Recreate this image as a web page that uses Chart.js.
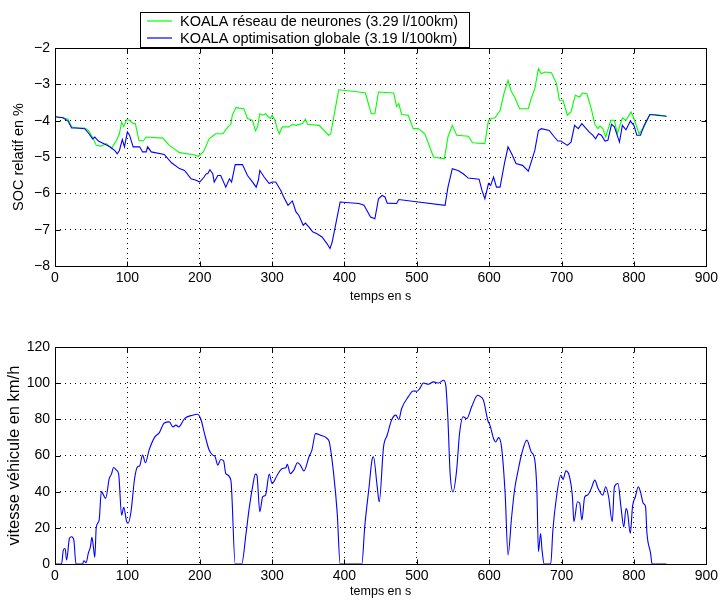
<!DOCTYPE html>
<html>
<head>
<meta charset="utf-8">
<script src="https://cdn.jsdelivr.net/npm/chart.js@4"></script>
<style>
  html, body { margin: 0; padding: 0; background: #fff; }
  #wrap { position: relative; width: 722px; height: 603px; }
  #socChart { position: absolute; left: 0; top: 0; }
  #speedChart { position: absolute; left: 0; top: 310px; }
</style>
</head>
<body>
<div id="wrap">
  <canvas id="socChart" width="722" height="310"></canvas>
  <canvas id="speedChart" width="722" height="293"></canvas>
</div>
<script>
// --- data ---
const legendLabels = ['KOALA réseau de neurones (3.29 l/100km)', 'KOALA optimisation globale (3.19 l/100km)'];
const xTitle = 'temps en s';
const socTitle = 'SOC relatif en %';
const speedTitle = 'vitesse véhicule en km/h';

// SOC, réseau de neurones (vert)
const tGreen = [0,11,18,23,30,41,46,53,57,64, 71,78,85,89,92,95,99,103,108,111,
  116,122,126,149,158,172,190,198,202,205, 209,213,222,232,239,243,245,250,261,266,
  273,277,280,283,287,291,295,298,300,304, 307,310,314,323,328,333,342,346,349,365,
  378,381,392,420,429,433,437,442,447,468, 472,475,479,488,495,502,511,523,538,543,
  549,555,571,577,594,599,603,608,615,621, 626,630,635,642,654,658,663,668,672,677,
  686,693,697,702,708,713,719,725,729,735, 741,746,750,753,757,761,768,773,777,784,
  789,796,800,807,814,822,830,845];
const socGreen = [-3.89,-3.92,-3.96,-4.17,-4.2,-4.2,-4.27,-4.5,-4.68,-4.7, -4.63,-4.77,-4.54,-4.36,-4.04,-4.16,-3.97,-3.99,-4.08,-4.08,
  -4.54,-4.56,-4.45,-4.48,-4.68,-4.88,-4.93,-4.98,-4.91,-4.86, -4.68,-4.5,-4.36,-4.36,-4.17,-4.1,-3.85,-3.64,-3.67,-3.94,
  -3.99,-4.28,-4.17,-3.81,-3.85,-3.81,-3.9,-3.94,-3.85,-3.99, -4.22,-4.36,-4.17,-4.17,-4.1,-4.13,-4.08,-3.96,-4.1,-4.13,
  -4.4,-4.36,-3.15,-3.21,-3.24,-3.53,-3.81,-3.81,-3.21,-3.24, -3.61,-3.53,-3.83,-3.85,-4.22,-4.22,-4.36,-5.0,-5.05,-4.45,
  -4.13,-4.4,-4.43,-4.61,-4.63,-3.99,-3.94,-3.92,-3.72,-3.21, -2.89,-3.17,-3.35,-3.67,-3.67,-3.39,-3.12,-2.57,-2.71,-2.66,
  -2.68,-2.98,-3.44,-3.44,-3.85,-3.76,-3.3,-3.35,-3.24,-3.26, -3.67,-4.1,-4.22,-4.15,-4.22,-4.45,-3.99,-3.99,-4.36,-3.92,
  -3.99,-3.76,-3.94,-4.36,-4.17,-3.83,-3.83,-3.88];

// SOC, optimisation globale (bleu)
const tBlue = [0,11,18,23,30,41,47,52,55,60, 67,76,83,86,89,93,96,100,103,108,
  117,121,126,128,133,151,161,172,179,188, 195,200,206,209,211,214,218,220,225,229,
  236,241,244,249,259,266,273,278,281,283, 289,296,300,305,312,316,322,328,333,337,
  343,346,351,356,362,369,376,380,383,394, 420,427,431,436,442,447,452,456,459,472,
  475,502,539,543,549,557,564,571,586,590, 594,599,602,606,610,615,621,626,631,637,
  646,654,658,663,668,672,683,690,695,699, 708,713,718,723,728,734,738,743,747,751,
  755,760,764,769,773,780,784,789,795,800, 804,809,814,822,845];
const socBlue = [-3.89,-3.92,-4.01,-4.2,-4.2,-4.22,-4.36,-4.5,-4.45,-4.56, -4.63,-4.72,-4.83,-4.91,-4.82,-4.52,-4.72,-4.31,-4.4,-4.72,
  -4.72,-4.86,-4.86,-4.72,-4.86,-4.93,-5.16,-5.32,-5.37,-5.6, -5.64,-5.69,-5.55,-5.46,-5.46,-5.35,-5.46,-5.69,-5.51,-5.51,
  -5.83,-5.6,-5.69,-5.21,-5.21,-5.51,-5.69,-5.83,-5.64,-5.37, -5.55,-5.73,-5.69,-5.69,-5.92,-6.1,-6.33,-6.21,-6.51,-6.61,
  -6.88,-6.82,-6.93,-7.06,-7.11,-7.2,-7.39,-7.52,-7.34,-6.24, -6.28,-6.33,-6.47,-6.65,-6.7,-6.15,-6.06,-6.1,-6.27,-6.28,
  -6.17,-6.24,-6.33,-5.83,-5.32,-5.37,-5.46,-5.58,-5.61,-5.92, -6.15,-5.73,-5.78,-5.55,-5.83,-5.83,-5.18,-4.72,-4.91,-5.18,
  -5.23,-5.39,-5.14,-4.82,-4.27,-4.22,-4.27,-4.45,-4.56,-4.56, -4.68,-4.59,-4.13,-4.22,-4.08,-4.22,-4.31,-4.4,-4.5,-4.36,
  -4.4,-4.56,-4.54,-4.1,-4.17,-4.59,-4.13,-4.25,-4.01,-4.13, -4.4,-4.4,-4.13,-3.83,-3.88];

// vitesse véhicule
const tSpeed = [0,9,11.5,14,16,20,23,26,29,38, 40,43,46,49,51,53,55,57,61,64,
  70,75,78,81,85,88,92,95,99,101, 105,110,114,117,121,125,130,138,144,151,
  158,163,167,171,179,190,197,202,206,213, 218,221,225,229,233,236,243,249,258,264,
  268,273,277,279,283,287,291,296,300,307, 314,319,321,325,330,335,339,344,351,355,
  360,367,376,379,385,390,394,
  424,428,434,438,440,445,448,454,459,465, 471,475,479,488,495,500,504,509,516,523,
  530,537,540,543,546,550,555,559,564,569, 576,584,587,592,598,601,606,609,613,617,
  622,626,631,635,640,645,652,658,663,666, 668,671,673,676,685,688,693,699,702,706,
  711,715,717,722,725,728,732,736,741,746, 750,757,761,765,770,773,778,782,786,789,
  791,795,798,802,806,809,813,816,818,823, 825,845];
const speed = [0,0,7.7,8.6,2.2,14.2,15.1,13.3,0,0, 1.8,0.7,5.9,9.6,14.7,9.6,3.7,20.2,24.3,40,
  36.3,47.3,49.7,53.4,51.9,49.7,27,31.3,23.4,22.5, 28.9,47.3,53.7,54.3,60.2,56,63,70.3,72.5,78,
  78.6,75.8,76.8,75.8,80.4,82.3,82.8,79.5,73.1,63, 60.2,59.6,54.7,57.8,57,50,46.4,0,0,16.9,
  29.8,42.7,49.7,49.1,28.9,37.2,38.1,49.7,44.5,49.1, 52.8,53.2,55.2,50,51.9,56,54.7,51.5,59.3,63,
  72.1,71.2,69.4,67.5,50,28,0,
  0,20.6,42.7,57.4,59.3,43.6,34.4,64.8,71.2,79.5, 82.3,79.9,86,92.4,95.7,95.5,97,100.1,99.4,100.7,
  100.1,101.6,98.8,79.5,50,39.9,51.9,72.1,81.4,80.4, 87.2,93.3,92.8,90.6,79.5,76.8,69.4,67.5,69.9,64.8,
  39,5,26.1,40.9,51.9,61.1,68.5,62,57.4,39, 6.8,16.9,7.7,0,0,18.8,37.2,49.1,46.8,51.5,
  48.2,37.2,23.4,34.4,33.7,24.3,37.2,38.1,41.8,46.4, 42.2,38.1,42.7,37.2,23.4,42.7,44.5,31.7,20.6,30.7,
  28.9,16.9,31.7,37.2,42.7,39.9,33.5,31.7,16.9,5.9, 0,0];

const GREEN = '#00ff00';
const BLUE = '#0000ff';
const FONT = "'Liberation Sans', Arial, Helvetica, sans-serif";

const toXY = (xs, ys) => xs.map((x, i) => ({x: x, y: ys[i]}));
const minus = v => v < 0 ? '\u2212' + Math.abs(v) : '' + v;

// matlab-like box + inward ticks
const boxTicks = {
  id: 'boxTicks',
  afterDraw(chart) {
    const {ctx, chartArea: a, scales: {x, y}} = chart;
    const L = Math.round(a.left) + 0.5, R = Math.round(a.right) + 0.5;
    const T = Math.round(a.top) + 0.5, B = Math.round(a.bottom) + 0.5;
    ctx.save();
    ctx.strokeStyle = '#000';
    ctx.lineWidth = 1;
    ctx.beginPath();
    x.ticks.forEach(t => {
      const px = Math.round(x.getPixelForValue(t.value)) + 0.5;
      ctx.moveTo(px, B); ctx.lineTo(px, B - 5);
      ctx.moveTo(px, T); ctx.lineTo(px, T + 5);
    });
    y.ticks.forEach(t => {
      const py = Math.round(y.getPixelForValue(t.value)) + 0.5;
      ctx.moveTo(L, py); ctx.lineTo(L + 5, py);
      ctx.moveTo(R, py); ctx.lineTo(R - 5, py);
    });
    ctx.stroke();
    ctx.strokeRect(L, T, R - L, B - T);
    ctx.restore();
  }
};

// legend box sitting on top of the upper plot
const boxLegend = {
  id: 'boxLegend',
  afterDraw(chart) {
    const ctx = chart.ctx;
    const colors = [GREEN, BLUE];
    ctx.save();
    ctx.fillStyle = '#fff';
    ctx.fillRect(140.5, 12.5, 329, 35);
    ctx.strokeStyle = '#000';
    ctx.lineWidth = 1;
    ctx.strokeRect(140.5, 12.5, 329, 35);
    ctx.font = '14.5px ' + FONT;
    ctx.textBaseline = 'middle';
    legendLabels.forEach((lab, i) => {
      const yy = 21 + i * 17;
      ctx.strokeStyle = colors[i];
      ctx.lineWidth = 1.2;
      ctx.beginPath();
      ctx.moveTo(147, yy); ctx.lineTo(172, yy);
      ctx.stroke();
      ctx.fillStyle = '#000';
      ctx.fillText(lab, 180, yy + 1);
    });
    ctx.restore();
  }
};

// note: for a bottom axis chart.js offsets the title by padding.bottom
function axisX(titlePad, below) {
  return {
    type: 'linear', min: 0, max: 900,
    afterFit: s => { s.height = below; },
    ticks: { stepSize: 100, autoSkip: false, maxRotation: 0, padding: 4, color: '#000',
             font: { family: FONT, size: 14 } },
    grid: { color: '#000', lineWidth: 1, drawTicks: false },
    border: { display: false, dash: [1, 4] },
    title: { display: true, text: xTitle, color: '#000', padding: { top: 0, bottom: titlePad },
             font: { family: FONT, size: 12.5 } }
  };
}

function axisY(min, max, step, title, size, pad) {
  return {
    min: min, max: max,
    afterFit: s => { s.width = 55; },
    ticks: { stepSize: step, autoSkip: false, padding: 5, color: '#000', callback: minus,
             font: { family: FONT, size: 14 } },
    grid: { color: '#000', lineWidth: 1, drawTicks: false },
    border: { display: false, dash: [1, 4] },
    title: { display: true, text: title, color: '#000', padding: { top: pad, bottom: 0 },
             font: { family: FONT, size: size } }
  };
}

new Chart(document.getElementById('socChart').getContext('2d'), {
  type: 'line',
  data: {
    datasets: [
      { label: legendLabels[1], data: toXY(tBlue, socBlue), borderColor: BLUE, borderWidth: 1.1,
        pointRadius: 0, tension: 0 },
      { label: legendLabels[0], data: toXY(tGreen, socGreen), borderColor: GREEN, borderWidth: 1.1,
        pointRadius: 0, tension: 0 }
    ]
  },
  options: {
    responsive: false,
    animation: false,
    devicePixelRatio: 1,
    layout: { padding: { top: 48, right: 13, left: 0, bottom: 0 } },
    plugins: { legend: { display: false }, tooltip: { enabled: false } },
    scales: {
      x: axisX(5.5, 44),
      y: axisY(-8, -2, 1, socTitle, 14.5, 10)
    }
  },
  plugins: [boxTicks, boxLegend]
});

new Chart(document.getElementById('speedChart').getContext('2d'), {
  type: 'line',
  data: {
    datasets: [
      { label: speedTitle, data: toXY(tSpeed, speed), borderColor: BLUE, borderWidth: 1.1,
        pointRadius: 0, cubicInterpolationMode: 'monotone' }
    ]
  },
  options: {
    responsive: false,
    animation: false,
    devicePixelRatio: 1,
    layout: { padding: { top: 37, right: 13, left: 0, bottom: 0 } },
    plugins: { legend: { display: false }, tooltip: { enabled: false } },
    scales: {
      x: axisX(3.5, 39),
      y: axisY(0, 120, 20, speedTitle, 16.5, 5)
    }
  },
  plugins: [boxTicks]
});
</script>
</body>
</html>
